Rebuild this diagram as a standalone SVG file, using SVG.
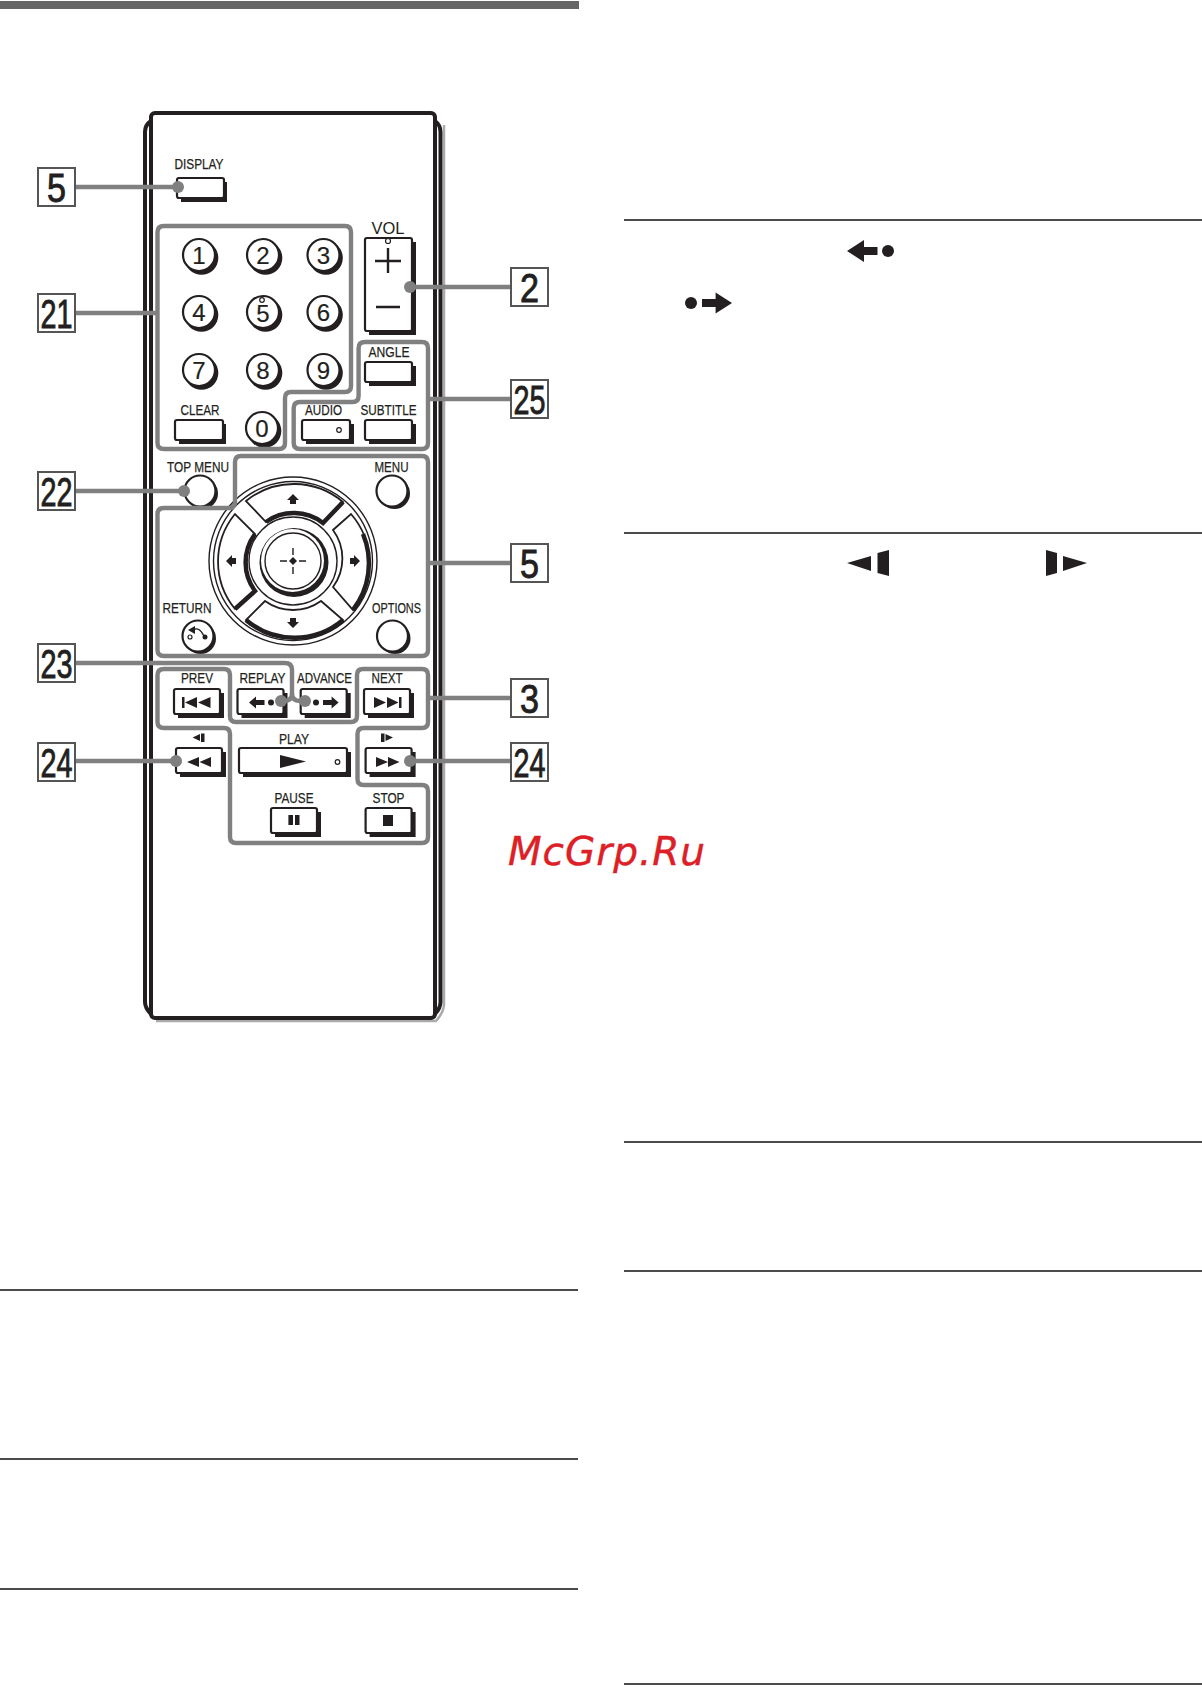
<svg xmlns="http://www.w3.org/2000/svg" width="1202" height="1701" viewBox="0 0 1202 1701">
<style>
text{font-family:"Liberation Sans",Arial,sans-serif;fill:#231f20}
.lb{font-size:15px;text-anchor:middle;stroke:#231f20;stroke-width:.25}
.dg{font-size:24px;text-anchor:middle;stroke:#231f20;stroke-width:.2}
.cn{font-size:41px;text-anchor:middle;stroke:#231f20;stroke-width:.9}
.box{fill:#fff;stroke:#555;stroke-width:2}
.rule{stroke:#111;stroke-width:1.5;fill:none}
.b{fill:#fff;stroke:#231f20;stroke-width:2.2}
.s{fill:#231f20}
.k{fill:#231f20}
.t{fill:none;stroke:#231f20;stroke-width:1.4}
.th{fill:none;stroke:#231f20;stroke-width:4.5}
.o{fill:#fff;stroke:#231f20;stroke-width:1.2}
.g{fill:none;stroke:#808080;stroke-width:4.4;stroke-linejoin:round}
.l{fill:none;stroke:#808080;stroke-width:4.4}
.d{fill:#808080}
</style>
<defs>
<g id="numkey"><circle class="s" cx="2.500" cy="3" r="16.800"/><circle class="b" r="16"/></g>
<g id="rkey"><circle class="s" cx="2.500" cy="2.500" r="15.500"/><circle class="b" r="15.500"/></g>
</defs>
<rect id="top-bar" x="0" y="1" width="579" height="8" fill="#666"/>
<g id="rules">
<path class="rule" d="M624 220H1202M624 533H1202M624 1142H1202M624 1271H1202M624 1684H1202M0 1290H578M0 1459H578M0 1589H578"/>
</g>
<g id="remote-body">
<path d="M444 125V1004Q444 1012 436 1021H156" fill="none" stroke="#aaa" stroke-width="2.500"/>
<path d="M151 121Q145 125 145 132V1002Q145 1008 151 1014" fill="none" stroke="#231f20" stroke-width="4"/>
<path d="M435 121Q440.500 125 440.500 132V1002Q440.500 1008 435 1014" fill="none" stroke="#231f20" stroke-width="4"/>
<rect x="151" y="113" width="284" height="905" rx="4" fill="#fff" stroke="#231f20" stroke-width="4"/>
</g>
<g id="btn-display"><text class="lb" x="199" y="169" textLength="49" lengthAdjust="spacingAndGlyphs">DISPLAY</text><rect class="s" x="181" y="182" width="46" height="20"/><rect class="b" x="177" y="178" width="47" height="20" rx="2"/></g>
<g id="btn-vol"><text x="388" y="234" font-size="17" text-anchor="middle" textLength="33" lengthAdjust="spacingAndGlyphs">VOL</text><rect class="s" x="369" y="242" width="47" height="93"/><rect class="b" x="365" y="238" width="47" height="93" rx="2"/><circle class="o" cx="388" cy="241" r="2.500"/><path d="M375 261H401M388 248V273M376 307H400" fill="none" stroke="#231f20" stroke-width="2.400"/></g>
<g id="keypad">
<use href="#numkey" x="199" y="255"/><text class="dg" x="199" y="263.500">1</text>
<use href="#numkey" x="263" y="255"/><text class="dg" x="263" y="263.500">2</text>
<use href="#numkey" x="323.500" y="255"/><text class="dg" x="323.500" y="263.500">3</text>
<use href="#numkey" x="199" y="312"/><text class="dg" x="199" y="320.500">4</text>
<use href="#numkey" x="263" y="312"/><text class="dg" x="263" y="321.500">5</text><circle class="o" cx="262" cy="300" r="2.300"/>
<use href="#numkey" x="323.500" y="312"/><text class="dg" x="323.500" y="320.500">6</text>
<use href="#numkey" x="199" y="370"/><text class="dg" x="199" y="378.500">7</text>
<use href="#numkey" x="263" y="370"/><text class="dg" x="263" y="378.500">8</text>
<use href="#numkey" x="323.500" y="370"/><text class="dg" x="323.500" y="378.500">9</text>
<use href="#numkey" x="262" y="428"/><text class="dg" x="262" y="436.500">0</text>
</g>
<g id="btn-clear"><text class="lb" x="200" y="415" textLength="39" lengthAdjust="spacingAndGlyphs">CLEAR</text><rect class="s" x="179" y="424" width="47" height="20"/><rect class="b" x="175" y="420" width="48" height="20" rx="2"/></g>
<g id="btn-angle"><text class="lb" x="389" y="357" textLength="41" lengthAdjust="spacingAndGlyphs">ANGLE</text><rect class="s" x="369" y="366" width="47" height="20"/><rect class="b" x="365" y="362" width="47" height="20" rx="2"/></g>
<g id="btn-audio"><text class="lb" x="323.500" y="415" textLength="37" lengthAdjust="spacingAndGlyphs">AUDIO</text><rect class="s" x="306" y="424" width="48" height="20"/><rect class="b" x="302" y="420" width="48" height="20" rx="2"/><circle class="o" cx="339" cy="430" r="2.300"/></g>
<g id="btn-subtitle"><text class="lb" x="388.500" y="415" textLength="56" lengthAdjust="spacingAndGlyphs">SUBTITLE</text><rect class="s" x="369" y="424" width="47" height="20"/><rect class="b" x="365" y="420" width="47" height="20" rx="2"/></g>
<g id="btn-topmenu"><text class="lb" x="198" y="472" textLength="62" lengthAdjust="spacingAndGlyphs">TOP MENU</text><use href="#rkey" x="200" y="491"/></g>
<g id="btn-menu"><text class="lb" x="391.500" y="472" textLength="34" lengthAdjust="spacingAndGlyphs">MENU</text><use href="#rkey" x="392" y="491"/></g>
<g id="btn-return"><text class="lb" x="187" y="613" textLength="49" lengthAdjust="spacingAndGlyphs">RETURN</text><use href="#rkey" x="198" y="636"/><circle class="o" cx="190" cy="637" r="2"/><circle class="k" cx="205" cy="637" r="2.500"/><path class="t" d="M193 630Q199 626 204 636"/><path class="k" d="M188 630L195 626L195 634Z"/></g>
<g id="btn-options"><text class="lb" x="396.500" y="613" textLength="49" lengthAdjust="spacingAndGlyphs">OPTIONS</text><use href="#rkey" x="392.500" y="636"/></g>
<g id="dpad" transform="translate(293 561)">
<circle class="t" r="84"/><circle class="t" r="79.500"/>
<path class="o" style="stroke-width:1.800" d="M-47 -60A76 76 0 0 1 50 -59L30 -38A48 48 0 0 0 -27 -39Z"/>
<path class="o" style="stroke-width:1.800" d="M-58 -47A75 75 0 0 0 -58 48L-38 30A48 48 0 0 1 -38 -27Z"/>
<path class="o" style="stroke-width:1.800" d="M-47 59A75 75 0 0 0 50 59L28 40A48 48 0 0 1 -28 40Z"/>
<path class="o" style="stroke-width:1.800" d="M58 -47A75 75 0 0 1 60 49L40 26A48 48 0 0 0 40 -31Z"/>
<path class="th" d="M-27 -39A48 48 0 0 1 30 -38L50 -59"/>
<path class="th" d="M-38 -27A48 48 0 0 0 -38 30L-58 48"/>
<path class="th" d="M-47 59A75 75 0 0 0 50 59"/>
<path class="th" d="M70 -27A76 76 0 0 1 60 49"/>
<circle class="t" r="44"/>
<circle class="k" cx="1" cy="1.500" r="34.500"/><circle cx="-0.500" cy="-0.500" r="31.500" fill="#fff"/><circle class="t" r="28"/>
<path class="k" d="M0 -4L4 0L0 4L-4 0Z"/>
<path class="t" d="M-13 0H-6M6 0H13M0 -13V-6M0 6V13"/>
<path class="k" d="M0 -67L6 -61H3V-57H-3V-61H-6Z"/>
<path class="k" d="M0 67L6 61H3V57H-3V61H-6Z"/>
<path class="k" d="M-67 0L-61 -6V-3H-57V3H-61V6Z"/>
<path class="k" d="M67 0L61 -6V-3H57V3H61V6Z"/>
</g>
<g id="btn-prev"><text class="lb" x="197" y="683" textLength="32" lengthAdjust="spacingAndGlyphs">PREV</text><rect class="s" x="178" y="693" width="46" height="25"/><rect class="b" x="174" y="689" width="46" height="25" rx="2"/><path class="k" d="M182 697H184.500V708H182ZM185 702.500L197 697V708ZM198 702.500L210.500 697V708Z"/></g>
<g id="btn-replay"><text class="lb" x="262.500" y="683" textLength="46" lengthAdjust="spacingAndGlyphs">REPLAY</text><rect class="s" x="241.500" y="693" width="46" height="25"/><rect class="b" x="237.500" y="689" width="46" height="25" rx="2"/><path class="k" d="M249 702.500L256 696.500V700H264.500V705H256V708.500Z"/><circle class="k" cx="271" cy="702.500" r="3"/></g>
<g id="btn-advance"><text class="lb" x="324.500" y="683" textLength="55" lengthAdjust="spacingAndGlyphs">ADVANCE</text><rect class="s" x="304.700" y="693" width="46" height="25"/><rect class="b" x="300.700" y="689" width="46" height="25" rx="2"/><circle class="k" cx="316" cy="702.500" r="3"/><path class="k" d="M338.600 702.500L331.600 696.500V700H323V705H331.600V708.500Z"/></g>
<g id="btn-next"><text class="lb" x="387" y="683" textLength="31" lengthAdjust="spacingAndGlyphs">NEXT</text><rect class="s" x="368" y="693" width="46" height="25"/><rect class="b" x="364" y="689" width="46" height="25" rx="2"/><path class="k" d="M374 697L386 702.500L374 708ZM387 697L398.500 702.500L387 708ZM399 697H401.500V708H399Z"/></g>
<g id="btn-play"><text class="lb" x="294" y="744" textLength="30" lengthAdjust="spacingAndGlyphs">PLAY</text><rect class="s" x="243" y="752" width="108" height="25"/><rect class="b" x="239" y="748" width="108" height="25" rx="2"/><path class="k" d="M280 755L306 761.500L280 768Z"/><circle class="o" cx="337.500" cy="762" r="2.300"/></g>
<g id="btn-rew"><path class="k" d="M192.600 737.500L200 734V741ZM201 733.500H204.500V742H201Z"/><rect class="s" x="180" y="752" width="46" height="25"/><rect class="b" x="176" y="748" width="46" height="25" rx="2"/><path class="k" d="M187 762L199 757V767ZM199.500 762L211 757V767Z"/></g>
<g id="btn-ffw"><path class="k" d="M393 737.500L385.500 734V741ZM384.500 733.500H381V742H384.500Z"/><rect class="s" x="369.600" y="752" width="46" height="25"/><rect class="b" x="365.600" y="748" width="46" height="25" rx="2"/><path class="k" d="M376 757L388 762L376 767ZM388 757L399.500 762L388 767Z"/></g>
<g id="btn-pause"><text class="lb" x="294" y="803" textLength="39" lengthAdjust="spacingAndGlyphs">PAUSE</text><rect class="s" x="275" y="812" width="46" height="25"/><rect class="b" x="271" y="808" width="46" height="25" rx="2"/><path class="k" d="M288.400 815H293V825H288.400ZM295 815H299.500V825H295Z"/></g>
<g id="btn-stop"><text class="lb" x="388.500" y="803" textLength="32" lengthAdjust="spacingAndGlyphs">STOP</text><rect class="s" x="369.600" y="812" width="46" height="25"/><rect class="b" x="365.600" y="808" width="46" height="25" rx="2"/><rect class="k" x="383" y="815" width="10" height="11"/></g>
<g id="connectors">
<path class="g" d="M164 226H345Q351 226 351 232V386Q351 392 345 392H291Q285 392 285 398V443Q285 449 279 449H164Q157.500 449 157.500 443V232Q157.500 226 164 226Z"/>
<path class="g" d="M365 342H422Q428 342 428 348V443Q428 449 422 449H300Q293.700 449 293.700 443V408Q293.700 402 300 402H352.600Q358.600 402 358.600 396V348Q358.600 342 365 342Z"/>
<path class="g" d="M241 456H422Q428 456 428 462V650Q428 656 422 656H164Q157.500 656 157.500 650V514Q157.500 508 164 508H229Q235 508 235 502V462Q235 456 241 456Z"/>
<path class="g" d="M164 669H224Q230 669 230 675V716Q230 722 236 722H351Q357 722 357 716V675Q357 669 363 669H422Q428 669 428 675V722Q428 728 422 728H363.500Q357.500 728 357.500 734V779Q357.500 785 363.500 785H422Q428 785 428 791V837Q428 843 422 843H236Q230 843 230 837V734Q230 728 224 728H164Q157.500 728 157.500 722V675Q157.500 669 164 669Z"/>
<path class="l" d="M76 187H178M76 313H157M410 287H511M429 399H511M76 491H184M429 563H511M429 698H511M76 761H176M410 761H511"/>
<path class="l" d="M76 663H285Q292 663 292 670V693Q292 701 284 701H281M292 693Q292 701 300 701H305"/>
<circle class="d" cx="178" cy="187" r="6"/><circle class="d" cx="410" cy="287" r="6"/><circle class="d" cx="184" cy="491" r="6"/><circle class="d" cx="281" cy="701" r="6"/><circle class="d" cx="305" cy="701" r="6"/><circle class="d" cx="176" cy="761" r="6"/><circle class="d" cx="410" cy="761" r="6"/>
</g>
<g id="callout-5a"><rect class="box" x="38" y="168" width="37" height="38"/><text class="cn" x="56.500" y="202" textLength="19" lengthAdjust="spacingAndGlyphs">5</text></g>
<g id="callout-21"><rect class="box" x="38" y="294" width="37" height="38"/><text class="cn" x="56.500" y="328" textLength="32" lengthAdjust="spacingAndGlyphs">21</text></g>
<g id="callout-22"><rect class="box" x="38" y="472" width="37" height="38"/><text class="cn" x="56.500" y="506" textLength="32" lengthAdjust="spacingAndGlyphs">22</text></g>
<g id="callout-23"><rect class="box" x="38" y="644" width="37" height="38"/><text class="cn" x="56.500" y="678" textLength="32" lengthAdjust="spacingAndGlyphs">23</text></g>
<g id="callout-24a"><rect class="box" x="38" y="743" width="37" height="38"/><text class="cn" x="56.500" y="777" textLength="32" lengthAdjust="spacingAndGlyphs">24</text></g>
<g id="callout-2"><rect class="box" x="511" y="268" width="37" height="38"/><text class="cn" x="529.500" y="302" textLength="19" lengthAdjust="spacingAndGlyphs">2</text></g>
<g id="callout-25"><rect class="box" x="511" y="380" width="37" height="38"/><text class="cn" x="529.500" y="414" textLength="32" lengthAdjust="spacingAndGlyphs">25</text></g>
<g id="callout-5b"><rect class="box" x="511" y="544" width="37" height="38"/><text class="cn" x="529.500" y="578" textLength="19" lengthAdjust="spacingAndGlyphs">5</text></g>
<g id="callout-3"><rect class="box" x="511" y="679" width="37" height="38"/><text class="cn" x="529.500" y="713" textLength="19" lengthAdjust="spacingAndGlyphs">3</text></g>
<g id="callout-24b"><rect class="box" x="511" y="743" width="37" height="38"/><text class="cn" x="529.500" y="777" textLength="32" lengthAdjust="spacingAndGlyphs">24</text></g>
<g id="right-glyphs">
<path class="k" d="M847 251L864 240V247H877.500V255H864V262Z"/><circle class="k" cx="888" cy="251" r="6"/>
<circle class="k" cx="691" cy="303" r="6"/><path class="k" d="M732 303L715.600 292.500V299H702V307H715.600V313.500Z"/>
<path class="k" d="M847 563L871 556V571ZM877.500 553L889 550V576L877.500 573Z"/>
<path class="k" d="M1087 563L1063 556V571ZM1057 553L1046 550V576L1057 573Z"/>
</g>
<text id="watermark" x="508" y="865" font-size="39" font-style="italic" textLength="197" style="font-family:'DejaVu Sans',sans-serif;fill:#dd2026;stroke:#dd2026;stroke-width:.4">McGrp.Ru</text>
</svg>
